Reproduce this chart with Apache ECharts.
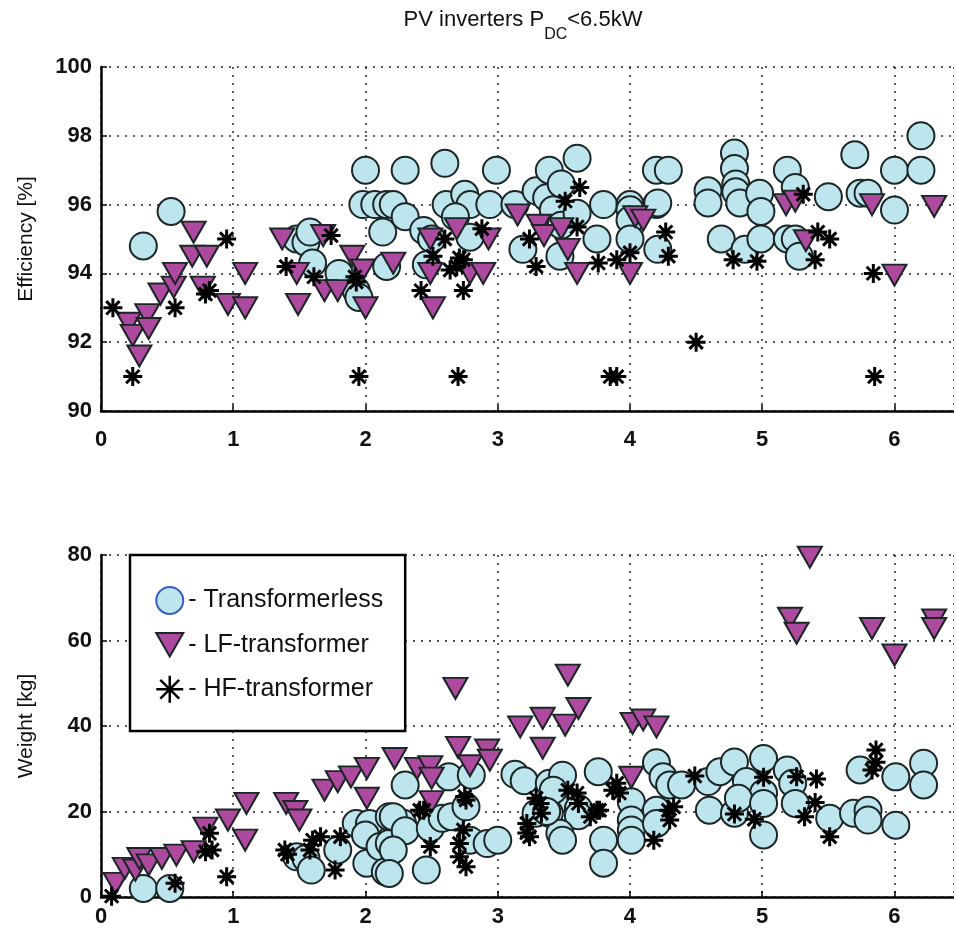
<!DOCTYPE html>
<html>
<head>
<meta charset="utf-8">
<script src="https://cdn.jsdelivr.net/npm/echarts@6/dist/echarts.min.js"></script>
<style>html,body{margin:0;padding:0;background:#fff;}#c{width:954px;height:930px;}</style>
</head>
<body>
<div id="c"></div>
<script>
// ---- Data: [P_DC (kW), value] ----
const seriesNames = ['Transformerless', 'LF-transformer', 'HF-transformer'];

const effTransformerless = [
[0.32,94.8],[0.53,95.8],
[1.48,95.0],[1.55,94.9],[1.58,95.2],[1.60,94.3],[1.80,94.0],[1.93,93.5],[1.95,93.3],
[2.00,97.0],[1.98,96.0],[2.07,96.0],[2.16,96.0],[2.21,96.0],[2.13,95.2],[2.16,94.2],[2.30,95.65],[2.30,97.0],[2.60,97.2],[2.99,97.0],
[2.44,95.25],[2.50,95.0],[2.46,94.25],[2.61,96.0],[2.75,96.3],[2.79,96.0],[2.94,96.0],[3.13,96.0],[2.68,95.65],[2.79,95.05],
[3.19,94.7],[3.29,96.4],[3.37,96.2],[3.39,97.0],[3.42,95.85],[3.47,94.5],[3.48,95.4],[3.48,96.6],[3.60,97.35],[3.60,95.75],
[3.75,95.0],[3.80,96.0],[4.0,96.0],[4.0,95.85],[4.0,95.55],[4.0,95.0],[4.2,96.0],[4.21,96.05],[4.20,97.0],[4.29,97.0],[4.21,94.7],
[4.59,96.4],[4.59,96.05],[4.69,95.0],[4.79,97.5],[4.79,97.05],[4.80,96.6],[4.80,96.37],[4.83,96.05],[4.87,94.7],[4.98,96.33],
[4.99,95.8],[4.99,95.0],[5.19,97.0],[5.25,96.5],[5.19,95.0],[5.25,95.0],[5.28,94.5],[5.50,96.23],[5.70,97.45],[5.74,96.33],
[5.80,96.33],[6.0,97.0],[6.2,98.0],[6.2,97.0],[6.0,95.84]
];
const effLF = [
[0.21,92.55],[0.24,92.2],[0.29,91.6],[0.35,92.8],[0.36,92.4],[0.45,93.4],[0.55,93.6],[0.56,94.0],[0.69,94.5],[0.70,95.2],
[0.77,93.6],[0.80,94.5],[0.96,93.1],[1.09,93.0],[1.09,94.0],
[1.37,95.0],[1.48,94.0],[1.49,93.1],[1.68,95.1],[1.69,93.5],[1.79,93.5],[1.90,94.5],[1.98,94.1],[2.0,93.0],
[2.21,94.3],[2.49,95.0],[2.49,94.0],[2.51,93.0],[2.69,95.3],[2.79,94.0],[2.89,94.0],[2.93,95.0],[3.15,95.7],[3.31,95.4],
[3.35,95.1],[3.48,95.3],[3.53,94.7],[3.60,94.0],[4.0,94.0],[4.04,95.65],[4.10,95.55],
[5.18,96.0],[5.25,96.1],[5.33,94.95],[5.83,96.0],[6.0,93.95],[6.30,95.95]
];
const effHF = [
[0.09,93.0],[0.24,91.0],[0.56,93.0],[0.79,93.4],[0.82,93.5],[0.95,95.0],[1.40,94.2],[1.61,93.9],[1.74,95.1],[1.92,93.9],
[1.93,93.75],[1.95,91.0],
[2.42,93.5],[2.51,94.5],[2.60,95.0],[2.64,94.1],[2.69,94.2],[2.71,94.45],[2.74,94.4],[2.74,93.5],[2.70,91.0],[2.88,95.3],
[3.24,95.0],[3.29,94.2],[3.51,96.1],[3.62,96.5],[3.60,95.35],[3.76,94.3],[3.85,91.0],[3.90,91.0],[3.90,94.4],[4.0,94.6],
[4.27,95.2],[4.29,94.5],
[4.50,92.0],[4.78,94.4],[4.96,94.35],[5.31,96.3],[5.40,94.4],[5.42,95.2],[5.51,95.0],[5.84,94.0],[5.85,91.0]
];

const weightTransformerless = [
[0.32,2.0],[0.52,2.0],
[1.48,9.4],[1.55,9.0],[1.59,6.3],[1.79,11.0],[1.93,17.2],[2.03,17.2],[2.0,14.5],[2.01,7.9],[2.11,11.8],[2.18,12.6],
[2.15,5.9],[2.18,18.8],[2.28,17.3],[2.30,26.2],[2.21,18.8],[2.30,15.5],[2.21,11.0],[2.18,5.5],
[2.46,6.3],[2.49,16.1],[2.58,18.4],[2.65,18.8],[2.63,28.1],[2.76,21.1],[2.80,28.5],[2.79,13.3],[2.92,12.5],[3.0,13.3],
[3.13,28.7],[3.20,27.2],[3.39,26.6],[3.49,28.5],[3.76,29.3],[3.47,23.1],[3.29,19.6],[3.39,19.6],[3.61,20.7],[3.61,19.0],
[3.47,14.9],[3.49,13.3],[3.80,13.3],[3.80,7.9],[4.01,22.3],[4.01,18.0],[4.01,15.7],[4.01,13.3],[4.20,31.4],[4.25,28.1],
[4.30,26.2],[4.20,20.3],[4.20,17.2],[3.42,25.0],[3.37,20.0],
[4.39,26.2],[4.59,27.0],[4.68,29.3],[4.79,31.6],[5.01,32.4],[4.88,27.0],[5.01,24.3],[4.60,20.3],[4.79,19.6],[4.82,23.1],
[5.01,21.9],[5.01,14.5],[5.19,29.7],[5.23,26.6],[5.25,21.9],[5.51,18.4],[5.69,19.6],[5.80,20.3],[5.80,18.0],[6.01,16.8],
[5.74,29.7],[6.01,28.1],[6.22,31.3],[6.22,26.2]
];
const weightLF = [
[0.11,3.2],[0.18,6.7],[0.26,6.3],[0.29,9.0],[0.36,7.5],[0.46,9.0],[0.57,9.8],[0.70,10.6],[0.79,16.1],[0.96,18.0],
[1.09,13.3],[1.10,21.9],
[1.40,21.9],[1.47,20.0],[1.50,18.0],[1.69,25.0],[1.79,27.0],[1.89,28.1],[2.01,30.1],[2.01,23.1],[2.22,32.4],
[2.39,30.1],[2.49,30.5],[2.50,27.8],[2.50,22.3],[2.68,48.8],[2.70,35.0],[2.79,30.7],[2.92,34.4],[2.94,32.0],
[3.17,39.8],[3.34,41.8],[3.34,34.8],[3.51,40.2],[3.53,51.9],[3.61,44.1],[4.02,40.6],[4.10,41.4],[4.20,39.8],[4.01,28.0],
[5.21,65.2],[5.26,61.7],[5.36,79.5],[5.83,62.8],[6.0,56.6],[6.30,64.8],[6.30,62.8]
];
const weightHF = [
[0.08,0.2],[0.56,3.2],[0.79,10.6],[0.82,14.9],[0.84,11.0],[0.95,4.75],
[1.39,11.0],[1.41,10.0],[1.58,11.0],[1.60,13.3],[1.66,14.1],[1.77,6.3],[1.81,14.1],
[2.41,20.3],[2.44,20.3],[2.49,11.8],[2.71,12.5],[2.71,9.4],[2.74,15.7],[2.76,22.7],[2.76,7.1],[2.75,23.5],
[3.22,17.2],[3.22,15.0],[3.24,14.1],[3.29,23.1],[3.32,21.9],[3.33,19.6],[3.53,25.0],[3.60,24.3],[3.61,21.9],[3.70,18.8],
[3.75,20.3],[3.77,20.3],[3.87,25.0],[3.90,26.6],[3.92,24.3],[4.18,13.3],[4.29,20.3],[4.33,21.1],[4.30,18.0],
[4.49,28.3],[4.79,19.4],[4.94,18.2],[5.01,28.0],[5.26,28.1],[5.41,27.6],[5.40,22.1],[5.32,18.8],[5.51,14.1],
[5.86,34.4],[5.86,31.5],[5.83,29.7]
];

const xTicks = { min: 0, max: 6.45, interval: 1 };
const effTicks = { min: 90, max: 100, interval: 2 };
const weightTicks = { min: 0, max: 80, interval: 20 };

// ---- Styles ----
const FONT = 'Liberation Sans, Arial, sans-serif';
const circleFill = '#bde5ee';
const triFill = '#ad4a9f';
const edge = '#1c2626';
const TRI = 'path://M0,0L10,0L5,8.7Z';
const STAR = 'path://M0,5L10,5M5,0L5,10M1.5,1.5L8.5,8.5M8.5,1.5L1.5,8.5';

function xAxis(gi, labelMargin) {
  return {
    type: 'value', gridIndex: gi, min: xTicks.min, max: xTicks.max, interval: xTicks.interval,
    axisLine: { show: true, onZero: false, lineStyle: { color: '#000', width: 2.5 } },
    axisTick: { show: true, inside: true, length: 6, lineStyle: { color: '#000', width: 1.5 } },
    axisLabel: { color: '#111', fontSize: 22, fontWeight: 'bold', fontFamily: FONT, margin: labelMargin,
                 showMaxLabel: false, formatter: v => (Number.isInteger(v) ? String(v) : '') },
    splitLine: { show: true, lineStyle: { color: '#222', width: 1.5, type: [2, 6] } }
  };
}
function yAxis(gi, t, name) {
  return {
    type: 'value', gridIndex: gi, min: t.min, max: t.max, interval: t.interval,
    name: name, nameLocation: 'middle', nameGap: 64, nameRotate: 90,
    nameTextStyle: { color: '#111', fontSize: 21, fontFamily: FONT },
    axisLine: { show: true, onZero: false, lineStyle: { color: '#000', width: 2.5 } },
    axisTick: { show: true, inside: true, length: 6, lineStyle: { color: '#000', width: 1.5 } },
    axisLabel: { color: '#111', fontSize: 22, fontWeight: 'bold', fontFamily: FONT, margin: 9 },
    splitLine: { show: true, lineStyle: { color: '#222', width: 1.5, type: [2, 6] } }
  };
}
function sc(name, gi, data, kind) {
  const base = { name: name, type: 'scatter', xAxisIndex: gi, yAxisIndex: gi, data: data, clip: false,
                 emphasis: { disabled: true } };
  if (kind === 'c') {
    return Object.assign(base, { symbol: 'circle', symbolSize: 27, z: 2,
      itemStyle: { color: circleFill, borderColor: edge, borderWidth: 2, opacity: 1 } });
  } else if (kind === 't') {
    return Object.assign(base, { symbol: TRI, symbolSize: [24, 21], symbolKeepAspect: false, z: 3,
      itemStyle: { color: triFill, borderColor: edge, borderWidth: 2, opacity: 1 } });
  }
  return Object.assign(base, { symbol: STAR, symbolSize: 19, z: 4,
    itemStyle: { color: '#000', borderColor: '#000', borderWidth: 3, opacity: 1 } });
}

const chart = echarts.init(document.getElementById('c'), null, { renderer: 'canvas' });
chart.setOption({
  backgroundColor: '#fff',
  animation: false,
  grid: [
    { left: 101, right: -1, top: 67, height: 344 },
    { left: 101, right: -1, top: 555, height: 342 }
  ],
  xAxis: [xAxis(0, 18), xAxis(1, 9)],
  yAxis: [yAxis(0, effTicks, 'Efficiency [%]'), yAxis(1, weightTicks, 'Weight [kg]')],
  legend: {
    orient: 'vertical', left: 130, top: 555,
    backgroundColor: '#fff', borderColor: '#000', borderWidth: 2.5,
    padding: [31, 22, 27, 25], itemGap: 17, itemWidth: 27, itemHeight: 27,
    textStyle: { color: '#111', fontSize: 25, fontFamily: FONT },
    formatter: n => '- ' + n,
    data: [
      { name: seriesNames[0], icon: 'circle', itemStyle: { color: circleFill, borderColor: '#3a5cc4', borderWidth: 2 } },
      { name: seriesNames[1], icon: TRI, itemStyle: { color: triFill, borderColor: edge, borderWidth: 2 } },
      { name: seriesNames[2], icon: STAR, itemStyle: { color: '#000', borderColor: '#000', borderWidth: 2.5 } }
    ],
    selectedMode: false
  },
  graphic: [{
    type: 'text', x: 523, y: 9,
    style: {
      text: '{a|PV inverters P}{s|DC}{a|<6.5kW}',
      align: 'center', verticalAlign: 'top',
      rich: {
        a: { fontSize: 22, fontFamily: FONT, fill: '#111', verticalAlign: 'top', lineHeight: 25 },
        s: { fontSize: 16, fontFamily: FONT, fill: '#111', verticalAlign: 'top', padding: [18, 0, 0, 0] }
      }
    }
  }],
  series: [
    sc(seriesNames[0], 0, effTransformerless, 'c'),
    sc(seriesNames[1], 0, effLF, 't'),
    sc(seriesNames[2], 0, effHF, 's'),
    sc(seriesNames[0], 1, weightTransformerless, 'c'),
    sc(seriesNames[1], 1, weightLF, 't'),
    sc(seriesNames[2], 1, weightHF, 's')
  ]
});
</script>
</body>
</html>
